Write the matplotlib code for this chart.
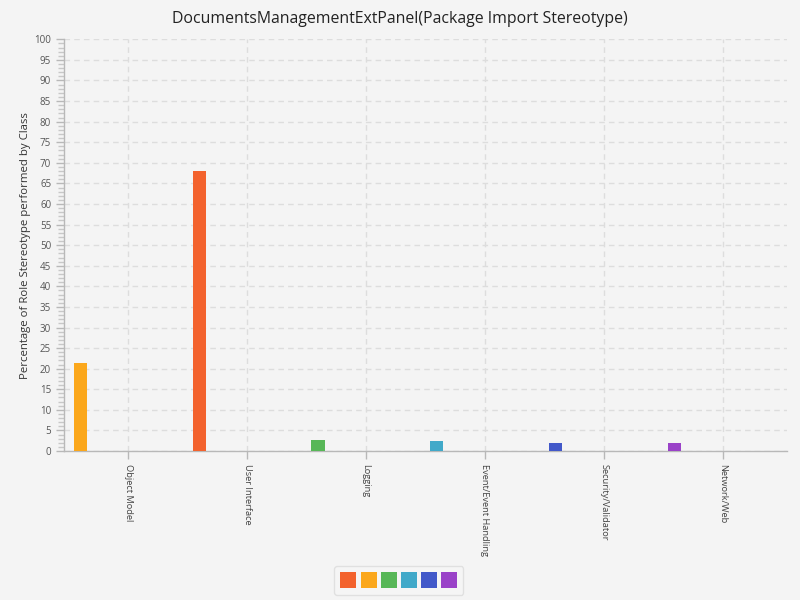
import matplotlib
matplotlib.use("Agg")
import matplotlib.pyplot as plt
from matplotlib.patches import Patch
import numpy as np

categories = ["Object Model", "User Interface", "Logging",
              "Event/Event Handling", "Security/Validator", "Network/Web"]
# one bar per category, each from a different series
values = [21.4, 68.0, 2.6, 2.4, 1.9, 1.9]
colors = ["#fba71b", "#f3622d", "#57b757", "#41a9c9", "#4258c9", "#9a42c8"]
legend_colors = ["#f3622d", "#fba71b", "#57b757", "#41a9c9", "#4258c9", "#9a42c8"]
title = "DocumentsManagementExtPanel(Package Import Stereotype)"
ylabel = "Percentage of Role Stereotype performed by Class"

plt.rcParams['font.family'] = ['Open Sans', 'DejaVu Sans']
bg = "#f4f4f4"
fig = plt.figure(figsize=(8, 6), dpi=100, facecolor=bg)
ax = fig.add_axes([0.0804, 0.2483, 0.9030, 0.6862], facecolor=bg)

x = np.arange(len(categories))
ax.bar(x - 0.405, values, width=0.112, color=colors, zorder=3)

ax.set_xlim(-0.54, len(categories) - 1 + 0.54)
ax.set_ylim(0, 100)
ax.set_yticks(np.arange(0, 101, 5))
ax.set_yticks(np.arange(0, 101, 1), minor=True)
ax.set_xticks(x)
ax.set_xticklabels(categories, rotation=270, fontsize=6.7,
                   va="top", ha="center")
ax.tick_params(axis='y', which='major', labelsize=7, colors="#b8b8b8",
               labelcolor="#555555", length=6, width=1)
ax.tick_params(axis='y', which='minor', colors="#c8c8c8", length=4, width=1)
ax.tick_params(axis='x', colors="#b8b8b8", labelcolor="#444444",
               length=6, width=1, pad=3)

ax.grid(True, which='major', axis='both', linestyle=(0, (4, 3)),
        color="#dddddd", linewidth=1, zorder=0)
for s in ['top', 'right']:
    ax.spines[s].set_visible(False)
for s in ['left', 'bottom']:
    ax.spines[s].set_color("#b8b8b8")
    ax.spines[s].set_linewidth(1)

ax.set_ylabel(ylabel, fontsize=8.2, color="#333333", labelpad=2)
fig.suptitle(title, fontsize=11.4, color="#222222", y=0.982)

handles = [Patch(facecolor=c, edgecolor='none') for c in legend_colors]
leg = fig.legend(handles, [''] * len(handles), loc='lower center',
                 bbox_to_anchor=(0.4985, -0.003), ncol=6, handlelength=1.15,
                 handleheight=1.3, handletextpad=0.0, columnspacing=0.3,
                 borderpad=0.45, frameon=True, fancybox=True,
                 facecolor="#f6f6f6", edgecolor="#dcdcdc", fontsize=10)
leg.get_frame().set_linewidth(1)

fig.savefig("out.png", dpi=100, facecolor=bg)
